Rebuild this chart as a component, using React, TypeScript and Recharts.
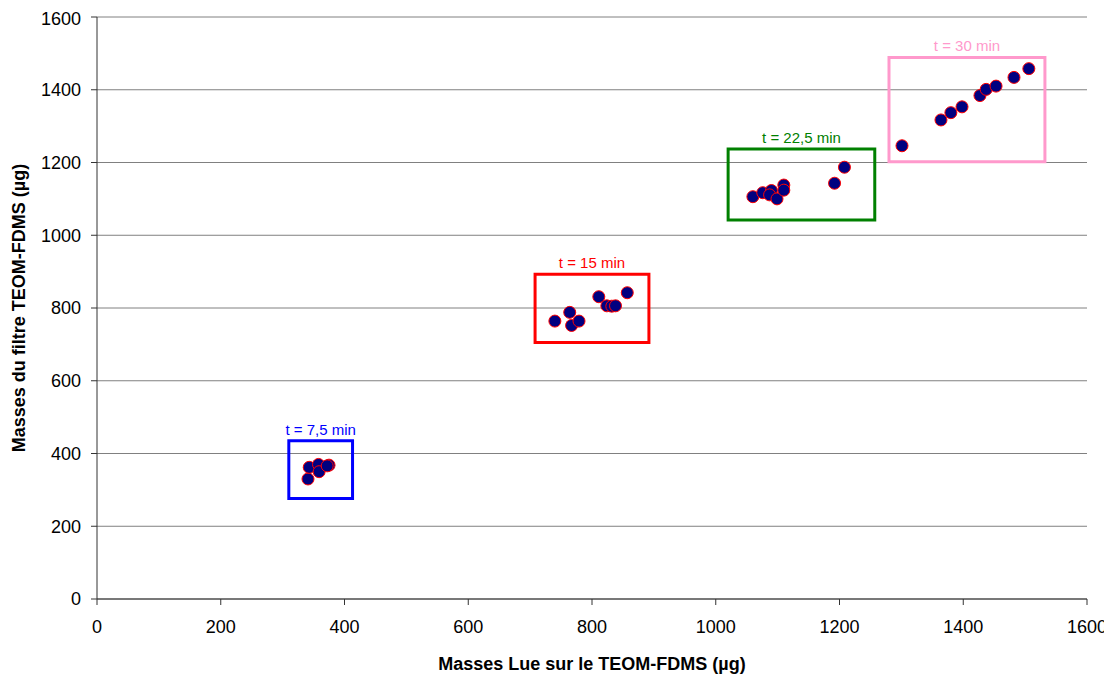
import {
  ScatterChart,
  Scatter,
  XAxis,
  YAxis,
  CartesianGrid,
  ReferenceArea,
} from 'recharts'

// mass read on the TEOM-FDMS (x) vs mass weighed on the filter (y), per sampling time
const t75Lue = [341, 343, 358, 359, 375, 372]
const t75Filtre = [330, 362, 370, 350, 368, 366]

const t15Lue = [740, 764, 767, 779, 811, 824, 832, 838, 857]
const t15Filtre = [764, 788, 752, 764, 831, 806, 805, 806, 842]

const t225Lue = [1060, 1076, 1090, 1087, 1099, 1110, 1110, 1192, 1208]
const t225Filtre = [1106, 1117, 1123, 1111, 1100, 1138, 1124, 1143, 1187]

const t30Lue = [1301, 1364, 1380, 1398, 1427, 1437, 1453, 1482, 1506]
const t30Filtre = [1246, 1317, 1337, 1353, 1384, 1401, 1410, 1434, 1458]

const ticks = [0, 200, 400, 600, 800, 1000, 1200, 1400, 1600]

// group frames: [x1, x2, y1, y2]
const groups = [
  { label: 't = 7,5 min', color: '#0000ff', box: [310, 413, 276, 435] },
  { label: 't = 15 min', color: '#ff0000', box: [708, 892, 705, 893] },
  { label: 't = 22,5 min', color: '#008000', box: [1020, 1257, 1042, 1237] },
  { label: 't = 30 min', color: '#ff99cc', box: [1280, 1532, 1202, 1489] },
]

const points = [
  ...t75Lue.map((x, i) => ({ x, y: t75Filtre[i] })),
  ...t15Lue.map((x, i) => ({ x, y: t15Filtre[i] })),
  ...t225Lue.map((x, i) => ({ x, y: t225Filtre[i] })),
  ...t30Lue.map((x, i) => ({ x, y: t30Filtre[i] })),
]

const font = 'Liberation Sans, Arial, sans-serif'

function Dot(props: any) {
  const { cx, cy } = props
  return <circle cx={cx} cy={cy} r={6} fill="#000080" stroke="#ff0000" strokeWidth={1} />
}

export default function App() {
  return (
    <div style={{ width: 1104, height: 668, background: '#fff', fontFamily: font }}>
      <ScatterChart
        width={1104}
        height={668}
        margin={{ top: 9, right: 25, bottom: 0, left: 0 }}
      >
        <CartesianGrid vertical={false} stroke="#808080" strokeWidth={1} />
        <XAxis
          type="number"
          dataKey="x"
          domain={[0, 1600]}
          ticks={ticks}
          height={77}
          stroke="#333"
          tickSize={6}
          tick={{ fill: '#000', fontSize: 18, fontFamily: font }}
          tickMargin={15}
          label={{
            value: 'Masses Lue sur le TEOM-FDMS (µg)',
            position: 'insideBottom',
            offset: 6,
            fill: '#000',
            fontSize: 18,
            fontWeight: 'bold',
            fontFamily: font,
          }}
        />
        <YAxis
          type="number"
          dataKey="y"
          domain={[0, 1600]}
          ticks={ticks}
          width={89}
          stroke="#333"
          tickSize={6}
          tick={{ fill: '#000', fontSize: 18, fontFamily: font }}
          tickMargin={10}
          label={{
            value: 'Masses du filtre TEOM-FDMS (µg)',
            angle: -90,
            position: 'insideLeft',
            offset: 11,
            style: { textAnchor: 'middle' },
            fill: '#000',
            fontSize: 18,
            fontWeight: 'bold',
            fontFamily: font,
          }}
        />
        {groups.map((g) => (
          <ReferenceArea
            key={g.label}
            x1={g.box[0]}
            x2={g.box[1]}
            y1={g.box[2]}
            y2={g.box[3]}
            fill="none"
            fillOpacity={0}
            stroke={g.color}
            strokeWidth={3}
            label={{
              value: g.label,
              position: 'top',
              offset: 6,
              fill: g.color,
              fontSize: 15,
              fontFamily: font,
            }}
          />
        ))}
        <Scatter data={points} shape={<Dot />} isAnimationActive={false} />
      </ScatterChart>
    </div>
  )
}
